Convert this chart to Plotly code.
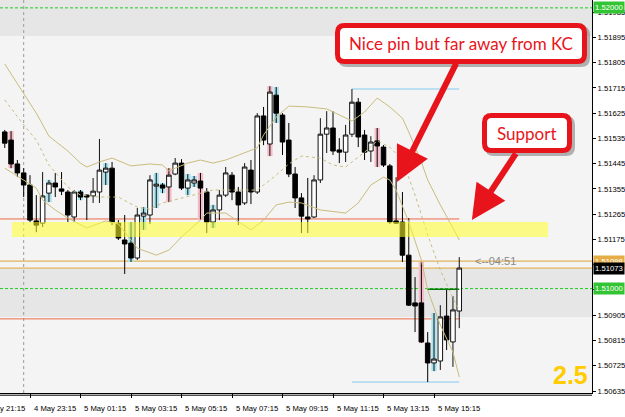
import plotly.graph_objects as go
import pandas as pd

# ---------------- data ----------------
candle_times = pd.date_range("2015-05-04 22:15", periods=73, freq="15min")

open_ = [1.51558, 1.51529, 1.51444, 1.51412, 1.51369, 1.51241, 1.51233, 1.51340, 1.51376, 1.51355,
         1.51344, 1.51255, 1.51344, 1.51333, 1.51330, 1.51344, 1.51415, 1.51429, 1.51233, 1.51173,
         1.51162, 1.51109, 1.51258, 1.51262, 1.51365, 1.51369, 1.51362, 1.51408, 1.51447, 1.51358,
         1.51376, 1.51383, 1.51344, 1.51237, 1.51280, 1.51333, 1.51404, 1.51344, 1.51305, 1.51422,
         1.51344, 1.51615, 1.51515, 1.51689, 1.51618, 1.51529, 1.51408, 1.51323, 1.51255, 1.51255,
         1.51387, 1.51550, 1.51572, 1.51494, 1.51486, 1.51550, 1.51664, 1.51547, 1.51490, 1.51526,
         1.51504, 1.51437, 1.51241, 1.51237, 1.51119, 1.50949, 1.50949, 1.50806, 1.50735, 1.50742,
         1.50902, 1.50810, 1.50920]
high_ = [1.51565, 1.51561, 1.51458, 1.51429, 1.51404, 1.51333, 1.51415, 1.51387, 1.51412, 1.51415,
         1.51351, 1.51351, 1.51351, 1.51335, 1.51394, 1.51533, 1.51447, 1.51451, 1.51244, 1.51262,
         1.51237, 1.51287, 1.51290, 1.51404, 1.51412, 1.51376, 1.51429, 1.51465, 1.51461, 1.51408,
         1.51401, 1.51412, 1.51358, 1.51298, 1.51351, 1.51433, 1.51415, 1.51362, 1.51447, 1.51458,
         1.51625, 1.51647, 1.51721, 1.51718, 1.51625, 1.51590, 1.51433, 1.51340, 1.51394, 1.51404,
         1.51607, 1.51632, 1.51632, 1.51536, 1.51583, 1.51711, 1.51679, 1.51565, 1.51543, 1.51572,
         1.51511, 1.51444, 1.51397, 1.51344, 1.51251, 1.51041, 1.51095, 1.50845, 1.50913, 1.50941,
         1.50995, 1.50973, 1.51112]
low_ = [1.51501, 1.51429, 1.51397, 1.51326, 1.51237, 1.51201, 1.51219, 1.51308, 1.51326, 1.51333,
        1.51237, 1.51237, 1.51315, 1.51244, 1.51305, 1.51305, 1.51369, 1.51226, 1.51173, 1.51052,
        1.51095, 1.51102, 1.51209, 1.51230, 1.51287, 1.51340, 1.51308, 1.51404, 1.51351, 1.51333,
        1.51362, 1.51244, 1.51198, 1.51216, 1.51244, 1.51326, 1.51315, 1.51226, 1.51298, 1.51301,
        1.51337, 1.51511, 1.51472, 1.51590, 1.51476, 1.51397, 1.51287, 1.51198, 1.51198, 1.51251,
        1.51376, 1.51483, 1.51476, 1.51447, 1.51451, 1.51540, 1.51504, 1.51458, 1.51451, 1.51433,
        1.51433, 1.51230, 1.51230, 1.51095, 1.50938, 1.50845, 1.50806, 1.50667, 1.50706, 1.50710,
        1.50781, 1.50721, 1.50859]
close_ = [1.51518, 1.51444, 1.51412, 1.51369, 1.51244, 1.51226, 1.51330, 1.51376, 1.51362, 1.51347,
          1.51262, 1.51344, 1.51326, 1.51326, 1.51347, 1.51422, 1.51429, 1.51237, 1.51180, 1.51159,
          1.51109, 1.51262, 1.51269, 1.51387, 1.51372, 1.51358, 1.51404, 1.51447, 1.51358, 1.51387,
          1.51387, 1.51358, 1.51237, 1.51280, 1.51333, 1.51412, 1.51344, 1.51298, 1.51433, 1.51344,
          1.51615, 1.51529, 1.51700, 1.51625, 1.51522, 1.51408, 1.51323, 1.51258, 1.51248, 1.51387,
          1.51550, 1.51572, 1.51490, 1.51486, 1.51547, 1.51664, 1.51540, 1.51486, 1.51522, 1.51508,
          1.51440, 1.51237, 1.51233, 1.51119, 1.50941, 1.50938, 1.50810, 1.50735, 1.50749, 1.50899,
          1.50817, 1.50924, 1.51073]

# channel lines (candle number -> price)
upper_idx = [1, 4, 6, 8, 11, 13, 14, 16, 18, 21, 24, 26, 27, 28, 30, 32, 34, 36, 39, 41, 42, 44, 46,
             49, 52, 54, 56, 58, 60, 62, 64, 65, 67, 68, 70, 72, 73]
upper_val = [1.51800, 1.51693, 1.51625, 1.51543, 1.51490, 1.51447, 1.51433, 1.51451, 1.51465, 1.51437,
             1.51444, 1.51440, 1.51419, 1.51429, 1.51447, 1.51458, 1.51447, 1.51458, 1.51483, 1.51501,
             1.51547, 1.51611, 1.51650, 1.51647, 1.51640, 1.51618, 1.51597, 1.51629, 1.51679, 1.51647,
             1.51607, 1.51558, 1.51451, 1.51387, 1.51298, 1.51216, 1.51173]
middle_idx = [1, 4, 6, 8, 11, 13, 16, 19, 22, 24, 26, 29, 31, 34, 38, 41, 44, 46, 48, 51, 53, 55, 58,
              60, 62, 64, 66, 68, 70, 72, 73]
middle_val = [1.51672, 1.51583, 1.51529, 1.51440, 1.51362, 1.51333, 1.51326, 1.51326, 1.51290, 1.51283,
              1.51305, 1.51323, 1.51333, 1.51351, 1.51351, 1.51351, 1.51404, 1.51444, 1.51472, 1.51465,
              1.51440, 1.51433, 1.51486, 1.51526, 1.51504, 1.51458, 1.51333, 1.51191, 1.51066, 1.50966,
              1.50924]
lower_idx = [1, 4, 6, 7, 9, 11, 14, 17, 19, 22, 25, 27, 29, 32, 33, 36, 40, 42, 44, 46, 48, 51, 55,
             57, 59, 61, 62, 63, 65, 67, 68, 70, 72, 73]
lower_val = [1.51429, 1.51387, 1.51358, 1.51315, 1.51280, 1.51251, 1.51216, 1.51241, 1.51230, 1.51144,
             1.51119, 1.51137, 1.51184, 1.51244, 1.51269, 1.51269, 1.51209, 1.51244, 1.51298, 1.51308,
             1.51305, 1.51280, 1.51269, 1.51305, 1.51369, 1.51397, 1.51387, 1.51351, 1.51237, 1.51102,
             1.50995, 1.50870, 1.50774, 1.50685]

pink_idx = [2, 27, 32, 43, 60, 67]
cyan_idx = [8, 13, 17, 21, 23, 25, 26, 30, 31, 34, 44, 69]

bid_price = 1.51073
ask_price = 1.51098
round_levels = [1.52000, 1.51000]
red_levels = [1.51248, 1.50892]
green_level = 1.50998
zone_low, zone_high = 1.51184, 1.51237
zone_start, zone_end = "2015-05-04 22:32", "2015-05-05 19:46"
grey_zones = [(1.51900, 1.52100), (1.50899, 1.51070)]
separator_time = "2015-05-04 23:00"
range_from_idx = 56

ytick_vals = [1.50635, 1.50725, 1.50815, 1.50905, 1.50995, 1.51085, 1.51175, 1.51265,
              1.51355, 1.51445, 1.51535, 1.51625, 1.51715, 1.51805, 1.51895, 1.51985]
# 1.50995 and 1.51085 are hidden behind the price boxes in the reference
ytick_text = ["1.50635", "1.50725", "1.50815", "1.50905", "", "", "1.51175", "1.51265",
              "1.51355", "1.51445", "1.51535", "1.51625", "1.51715", "1.51805", "1.51895", "1.51985"]
xlabel_times = ["2015-05-04 21:15", "2015-05-04 23:15", "2015-05-05 01:15", "2015-05-05 03:15",
                "2015-05-05 05:15", "2015-05-05 07:15", "2015-05-05 09:15", "2015-05-05 11:15",
                "2015-05-05 13:15", "2015-05-05 15:15"]
xlabel_text = ["4 May 21:15", "4 May 23:15", "5 May 01:15", "5 May 03:15", "5 May 05:15",
               "5 May 07:15", "5 May 09:15", "5 May 11:15", "5 May 13:15", "5 May 15:15"]

x_range = ["2015-05-04 22:03:43", "2015-05-05 21:30:27"]
y_range = [1.50628, 1.52028]

# ---------------- figure ----------------
W, H = 592, 393
ML, MR, MT, MB = 0, 33, 0, 24
TXT = "Liberation Sans"
RED = "#e8141c"
BAND = "#c9bd7c"

fig = go.Figure()

def pick(idx_list, arr):
    return [arr[i - 1] for i in idx_list]

bar_w = 0.85 * 15 * 60 * 1000
for idxs, col in [(pink_idx, "#f6bcc8"), (cyan_idx, "#a9e3ef")]:
    hs = pick(idxs, high_)
    ls = pick(idxs, low_)
    fig.add_trace(go.Bar(x=pick(idxs, list(candle_times)), y=[h - l for h, l in zip(hs, ls)], base=ls,
                         width=bar_w, marker=dict(color=col, line=dict(width=0)),
                         showlegend=False, hoverinfo="skip"))

for idxs, vals, dash in [(upper_idx, upper_val, "solid"), (middle_idx, middle_val, "3px,3px"),
                         (lower_idx, lower_val, "solid")]:
    fig.add_trace(go.Scatter(x=pick(idxs, list(candle_times)), y=vals, mode="lines",
                             line=dict(color=BAND, width=1, dash=dash), showlegend=False,
                             hoverinfo="skip"))

fig.add_trace(go.Candlestick(
    x=candle_times, open=open_, high=high_, low=low_, close=close_,
    increasing=dict(line=dict(color="#111111", width=1), fillcolor="#ffffff"),
    decreasing=dict(line=dict(color="#000000", width=1), fillcolor="#000000"),
    whiskerwidth=0, showlegend=False))

shapes = []
for lo, hi in grey_zones:
    shapes.append(dict(type="rect", xref="paper", yref="y", x0=0, x1=1, y0=lo, y1=hi,
                       fillcolor="#e6e6e6", line=dict(width=0), layer="below"))
shapes.append(dict(type="line", xref="x", yref="paper", x0=separator_time, x1=separator_time, y0=0, y1=1,
                   line=dict(color="#9a9a9a", width=1, dash="dot"), layer="below"))
for lv in round_levels:
    shapes.append(dict(type="line", xref="paper", yref="y", x0=0, x1=1, y0=lv, y1=lv,
                       line=dict(color="#22cc22", width=1, dash="3px,2px"), layer="below"))
last_t = candle_times[-1]
for lv in red_levels:
    shapes.append(dict(type="line", xref="x", yref="y", x0=x_range[0], x1=last_t, y0=lv, y1=lv,
                       line=dict(color="#ec6a46", width=1), layer="below"))
for lv in [ask_price, bid_price]:
    shapes.append(dict(type="line", xref="paper", yref="y", x0=0, x1=1, y0=lv, y1=lv,
                       line=dict(color="#e2b25c", width=1.3), layer="below"))
hi_lv = max(high_[range_from_idx - 1:])
lo_lv = min(low_[range_from_idx - 1:])
for lv in [hi_lv, lo_lv]:
    shapes.append(dict(type="line", xref="x", yref="y", x0=candle_times[range_from_idx - 1], x1=last_t,
                       y0=lv, y1=lv, line=dict(color="#86c8ee", width=1), layer="below"))
shapes.append(dict(type="line", xref="x", yref="y", x0=candle_times[67], x1=last_t,
                   y0=green_level, y1=green_level, line=dict(color="#0a7a0a", width=1.5), layer="above"))
shapes.append(dict(type="rect", xref="x", yref="y", x0=zone_start, x1=zone_end, y0=zone_low, y1=zone_high,
                   fillcolor="rgba(255,255,40,0.55)", line=dict(width=0), layer="above"))
shapes.append(dict(type="line", xref="paper", yref="paper", x0=0, x1=1, y0=-2.2 / H, y1=-2.2 / H,
                   line=dict(color="#000000", width=1)))

def px(x):
    return x / W

def py(y):
    return 1 - y / H

def rounded(x0, y0, x1, y1, r):
    return (f"M{px(x0 + r)},{py(y0)} L{px(x1 - r)},{py(y0)} Q{px(x1)},{py(y0)} {px(x1)},{py(y0 + r)} "
            f"L{px(x1)},{py(y1 - r)} Q{px(x1)},{py(y1)} {px(x1 - r)},{py(y1)} "
            f"L{px(x0 + r)},{py(y1)} Q{px(x0)},{py(y1)} {px(x0)},{py(y1 - r)} "
            f"L{px(x0)},{py(y0 + r)} Q{px(x0)},{py(y0)} {px(x0 + r)},{py(y0)} Z")

boxes = [(335, 23, 587, 64, "Nice pin but far away from KC"), (482, 113, 572, 153, "Support")]
annotations = []
for (x0, y0, x1, y1, txt) in boxes:
    shapes.append(dict(type="path", xref="paper", yref="paper", path=rounded(x0 + 3, y0 + 3, x1 + 3, y1 + 3, 9),
                       fillcolor="rgba(0,0,0,0.28)", line=dict(width=0), layer="above"))
    shapes.append(dict(type="path", xref="paper", yref="paper",
                       path=rounded(x0 + 2.5, y0 + 2.5, x1 - 2.5, y1 - 2.5, 7),
                       fillcolor="#ffffff", line=dict(color=RED, width=5), layer="above"))
    annotations.append(dict(xref="paper", yref="paper", x=px((x0 + x1) / 2), y=py((y0 + y1) / 2),
                            text=txt, showarrow=False, font=dict(family="Lato", size=17, color=RED),
                            xanchor="center", yanchor="middle"))

# arrows pointing at the pin bar and at the support zone
annotations.append(dict(x="2015-05-05 13:47", y=1.51380, xref="x", yref="y", ax=60, ay=-120, text="",
                        showarrow=True, arrowhead=2, arrowsize=1.15, arrowwidth=6, arrowcolor=RED, standoff=0))
annotations.append(dict(x="2015-05-05 16:45", y=1.51244, xref="x", yref="y", ax=45, ay=-68, text="",
                        showarrow=True, arrowhead=2, arrowsize=1.15, arrowwidth=6, arrowcolor=RED, standoff=0))

# right-side price labels
for price, col in [(1.52000, "#33c433"), (ask_price, "#e6ad46"), (bid_price, "#000000"), (1.51000, "#33c433")]:
    annotations.append(dict(xref="paper", yref="y", x=1, y=price, xanchor="left", yanchor="middle",
                            xshift=1, text=f"{price:.5f}", showarrow=False, bgcolor=col, borderpad=1,
                            font=dict(family=TXT, size=7.7, color="#ffffff")))

# bottom time labels
t0, t1 = pd.Timestamp(x_range[0]), pd.Timestamp(x_range[1])
for t, txt in zip(xlabel_times, xlabel_text):
    frac = (pd.Timestamp(t) - t0) / (t1 - t0)
    annotations.append(dict(xref="paper", yref="paper", x=frac, y=-15 / H, xanchor="left", yanchor="middle",
                            xshift=2, text=txt, showarrow=False, font=dict(family=TXT, size=7.7, color="#000000")))

annotations.append(dict(xref="paper", yref="y", x=px(473), y=ask_price, xanchor="left", yanchor="middle",
                        text="<--04:51", showarrow=False, font=dict(family=TXT, size=11, color="#8a8a8a")))
annotations.append(dict(xref="paper", yref="paper", x=px(570), y=py(375), xanchor="center", yanchor="middle",
                        text="<b>2.5</b>", showarrow=False, font=dict(family=TXT, size=25, color="#ffcc00")))

fig.update_layout(
    width=625, height=417,
    margin=dict(l=ML, r=MR, t=MT, b=MB, pad=0),
    paper_bgcolor="#ffffff", plot_bgcolor="#f4f4f4",
    barmode="overlay", boxgap=0.2, boxgroupgap=0.1,
    showlegend=False,
    shapes=shapes, annotations=annotations,
    xaxis=dict(type="date", range=x_range, rangeslider=dict(visible=False), showgrid=False,
               showline=True, linecolor="#000000", linewidth=1, ticks="outside", ticklen=4,
               tickcolor="#000000", tickvals=xlabel_times, showticklabels=False, zeroline=False),
    yaxis=dict(range=y_range, side="right", showgrid=False, showline=True, linecolor="#000000",
               linewidth=1, ticks="outside", ticklen=3, tickcolor="#000000",
               tickvals=ytick_vals, ticktext=ytick_text,
               tickfont=dict(family=TXT, size=7.7, color="#000000"), zeroline=False),
)

fig.write_html("out.html")
